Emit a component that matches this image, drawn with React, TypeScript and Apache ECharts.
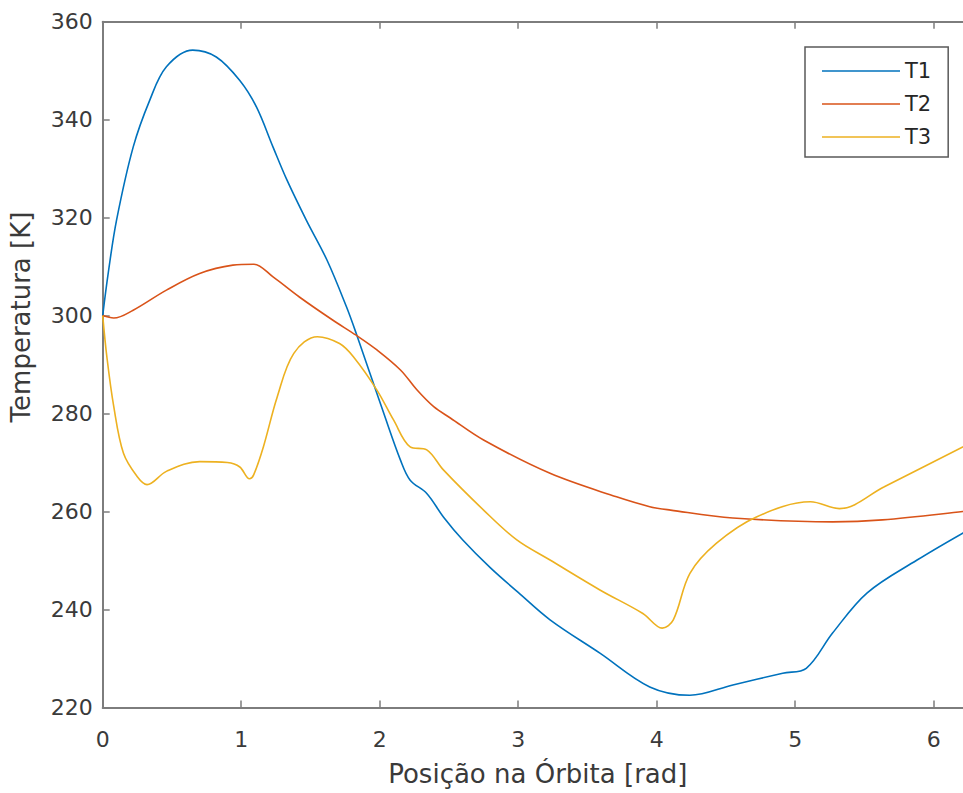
import React, { useEffect, useRef } from "react";
import * as echarts from "echarts";

const X_MAX = 2 * Math.PI;
const Y_MIN = 220;
const Y_MAX = 360;
const Y_STEP = 20;
const X_STEP = 1;

const xTitle = "Posição na Órbita [rad]";
const yTitle = "Temperatura [K]";
const seriesNames = ["T1", "T2", "T3"];
const seriesColors = ["#0072BD", "#D95319", "#EDB120"];

const t1X = [0, 0.04, 0.1, 0.22, 0.34, 0.46, 0.65, 0.82, 0.99, 1.11, 1.23, 1.33, 1.47, 1.62, 1.76, 1.83, 2.03, 2.15, 2.22, 2.34, 2.46, 2.6, 2.8, 3.0, 3.23, 3.59, 3.95, 4.24, 4.55, 4.91, 5.08, 5.27, 5.52, 5.88, 6.21, 6.2832];
const t1Y = [300, 308.7, 319.5, 334.4, 344, 350.8, 354.2, 352.8, 348, 342.6, 334.4, 327.7, 319.5, 311.3, 301.8, 296.4, 280, 270.5, 266.4, 263.7, 258.9, 254.2, 248.5, 243.5, 237.9, 231.1, 224.2, 222.5, 224.6, 227, 228, 235.2, 243.4, 250.1, 255.6, 256.6];

const t2X = [0, 0.08, 0.22, 0.46, 0.7, 0.94, 1.09, 1.23, 1.42, 1.66, 1.83, 1.98, 2.15, 2.27, 2.39, 2.51, 2.75, 3.23, 3.71, 3.95, 4.1, 4.55, 5.27, 5.63, 6.21, 6.2832];
const t2Y = [300, 299.5, 301.1, 305.2, 308.6, 310.3, 310.5, 307.9, 303.8, 299.1, 296, 293, 288.9, 284.8, 281.4, 279.1, 274.6, 267.8, 263, 261, 260.3, 258.7, 257.9, 258.3, 260, 260.3];

const t3X = [0, 0.03, 0.08, 0.15, 0.25, 0.32, 0.46, 0.7, 0.9, 0.99, 1.06, 1.09, 1.16, 1.26, 1.38, 1.55, 1.71, 1.81, 1.98, 2.1, 2.22, 2.34, 2.46, 2.75, 2.99, 3.23, 3.59, 3.9, 4.04, 4.12, 4.24, 4.43, 4.72, 5.11, 5.32, 5.64, 6.21, 6.2832];
const t3Y = [300, 291.6, 281.4, 271.9, 267.1, 265.5, 268.2, 270.2, 270, 269.1, 266.7, 267.5, 273.2, 283.4, 292.3, 295.7, 294.3, 291.6, 284.8, 278.7, 273.2, 272.6, 268.5, 260.3, 254.2, 250.1, 244, 239.2, 236.2, 237.9, 247.4, 253.5, 258.9, 262, 260.6, 265, 273.2, 274.2];

const seriesX = [t1X, t2X, t3X];
const seriesY = [t1Y, t2Y, t3Y];

const FONT = "DejaVu Sans, Liberation Sans, Arial, sans-serif";
const AXIS_COLOR = "#7d7d7d";
const TEXT_COLOR = "#3a3a3a";
const LEGEND_ICON = "path://M0,0 L78,0 L78,1.6 L0,1.6 Z";

const zip = (xs: number[], ys: number[]) => xs.map((x, i) => [x, ys[i]]);

export default function App() {
  const ref = useRef<HTMLDivElement>(null);
  useEffect(() => {
    if (!ref.current) return;
    const chart = echarts.init(ref.current, null, { renderer: "svg" });
    const axisLine = { show: true, lineStyle: { color: AXIS_COLOR, width: 2 } };
    const axisTick = { show: true, inside: true, length: 7, lineStyle: { color: AXIS_COLOR, width: 1.5 } };
    chart.setOption({
      animation: false,
      backgroundColor: "#ffffff",
      textStyle: { fontFamily: FONT },
      grid: { left: 102.7, top: 21.7, width: 870.2, height: 685.8, containLabel: false },
      legend: {
        orient: "vertical",
        left: 805,
        top: 47,
        data: seriesNames.map((name) => ({ name, icon: LEGEND_ICON })),
        backgroundColor: "#ffffff",
        borderColor: "#5a5a5a",
        borderWidth: 1.5,
        borderRadius: 0,
        padding: [13.5, 17, 9.5, 17],
        itemWidth: 78,
        itemHeight: 21,
        itemGap: 12,
        textStyle: { fontSize: 21, color: "#262626", fontFamily: FONT },
      },
      xAxis: [
        {
          type: "value",
          position: "bottom",
          min: 0,
          max: X_MAX,
          interval: X_STEP,
          axisLine,
          axisTick,
          splitLine: { show: false },
          axisLabel: {
            margin: 21,
            fontSize: 22,
            color: TEXT_COLOR,
            fontFamily: FONT,
            showMaxLabel: false,
            formatter: (v: number) => (Math.abs(v - Math.round(v)) < 1e-9 ? String(Math.round(v)) : ""),
          },
          name: xTitle,
          nameLocation: "middle",
          nameGap: 53,
          nameTextStyle: { fontSize: 26, color: TEXT_COLOR, fontFamily: FONT },
        },
        {
          type: "value",
          position: "top",
          min: 0,
          max: X_MAX,
          interval: X_STEP,
          axisLine,
          axisTick,
          splitLine: { show: false },
          axisLabel: { show: false },
        },
      ],
      yAxis: {
        type: "value",
        min: Y_MIN,
        max: Y_MAX,
        interval: Y_STEP,
        axisLine,
        axisTick,
        splitLine: { show: false },
        axisLabel: { margin: 10, fontSize: 22, color: TEXT_COLOR, fontFamily: FONT },
      },
      graphic: [
        {
          type: "text",
          x: 21,
          y: 317,
          rotation: Math.PI / 2,
          style: {
            text: yTitle,
            fontSize: 26,
            fontFamily: FONT,
            fill: TEXT_COLOR,
            align: "center",
            verticalAlign: "middle",
            textAlign: "center",
            textVerticalAlign: "middle",
          },
        },
      ],
      series: seriesNames.map((name, i) => ({
        name,
        type: "line",
        xAxisIndex: 0,
        data: zip(seriesX[i], seriesY[i]),
        symbol: "none",
        showSymbol: false,
        smooth: 0.35,
        color: seriesColors[i],
        lineStyle: { color: seriesColors[i], width: 1.6 },
      })),
    });
    return () => chart.dispose();
  }, []);
  return (
    <div style={{ position: "fixed", left: 0, top: 0, width: 963, height: 793, overflow: "hidden", background: "#fff" }}>
      <div ref={ref} style={{ width: 1000, height: 793 }} />
    </div>
  );
}
